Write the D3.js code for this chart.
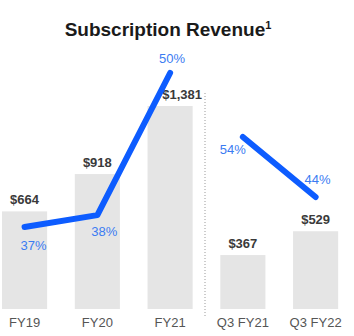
<!DOCTYPE html>
<html>
<head>
<meta charset="utf-8">
<script src="https://cdn.jsdelivr.net/npm/d3@7/dist/d3.min.js"></script>
<style>
  html, body { margin: 0; padding: 0; background: #fff; }
  svg { display: block; font-family: "Liberation Sans", Arial, sans-serif; }
</style>
</head>
<body>
<svg id="chart" width="354" height="336"></svg>
<script>
// Subscription revenue ($M) with growth rate
const categories = ["FY19", "FY20", "FY21", "Q3 FY21", "Q3 FY22"];
const revenue = [664, 918, 1381, 367, 529];
const valueLabels = ["$664", "$918", "$1,381", "$367", "$529"];
const growth = [37, 38, 50, 54, 44];
const growthLabels = ["37%", "38%", "50%", "54%", "44%"];
const annualIdx = [0, 1, 2];
const quarterIdx = [3, 4];

const svg = d3.select("#chart");

const x = d3.scaleBand()
  .domain(categories)
  .range([-11.8, 352])
  .paddingInner(0.38)
  .paddingOuter(0.19);

const y = d3.scaleLinear().domain([0, 1381]).range([309, 106]);

// growth lines use their own scale per panel
const gA = d3.scaleLinear().domain([37, 50]).range([227, 73]);
const gQ = d3.scaleLinear().domain([44, 54]).range([197, 137]);

// title
svg.append("text")
  .attr("x", 168).attr("y", 36)
  .attr("text-anchor", "middle")
  .attr("font-size", 19).attr("font-weight", "bold")
  .attr("fill", "#1a1a1a")
  .text("Subscription Revenue")
  .append("tspan")
  .attr("font-size", 11).attr("dy", -7)
  .text("1");

// bars
svg.selectAll("rect.bar")
  .data(categories)
  .join("rect")
  .attr("class", "bar")
  .attr("x", d => x(d))
  .attr("width", x.bandwidth())
  .attr("y", (d, i) => y(revenue[i]))
  .attr("height", (d, i) => y(0) - y(revenue[i]))
  .attr("fill", "#e5e5e5");

// value labels (FY21 label nudged right of the rising line)
const valDx = [0, 0, 12, 0, 0];
svg.selectAll("text.val")
  .data(categories)
  .join("text")
  .attr("class", "val")
  .attr("x", (d, i) => x(d) + x.bandwidth() / 2 + valDx[i])
  .attr("y", (d, i) => y(revenue[i]) - 7)
  .attr("text-anchor", "middle")
  .attr("font-size", 13).attr("font-weight", "bold")
  .attr("fill", "#3a3a3a")
  .text((d, i) => valueLabels[i]);

// separator between annual and quarterly
svg.append("line")
  .attr("x1", 205).attr("x2", 205)
  .attr("y1", 93).attr("y2", 318)
  .attr("stroke", "#9a9a9a").attr("stroke-width", 1)
  .attr("stroke-dasharray", "1,2");

// growth lines
const cx = i => x(categories[i]) + x.bandwidth() / 2;
const lineA = d3.line().x(i => cx(i)).y(i => gA(growth[i]));
const lineQ = d3.line().x(i => cx(i)).y(i => gQ(growth[i]));

svg.append("path").attr("d", lineA(annualIdx))
  .attr("fill", "none").attr("stroke", "#0d5cff")
  .attr("stroke-width", 6).attr("stroke-linecap", "round").attr("stroke-linejoin", "round");
svg.append("path").attr("d", lineQ(quarterIdx))
  .attr("fill", "none").attr("stroke", "#0d5cff")
  .attr("stroke-width", 6).attr("stroke-linecap", "round").attr("stroke-linejoin", "round");

// growth labels (offsets relative to each point)
const gOffsets = [[9, 23], [7, 21], [2, -10], [-10, 17], [2, -13]];
svg.selectAll("text.pct")
  .data(categories)
  .join("text")
  .attr("class", "pct")
  .attr("x", (d, i) => cx(i) + gOffsets[i][0])
  .attr("y", (d, i) => (i < 3 ? gA(growth[i]) : gQ(growth[i])) + gOffsets[i][1])
  .attr("text-anchor", "middle")
  .attr("font-size", 13)
  .attr("fill", "#3b7cf2")
  .text((d, i) => growthLabels[i]);

// category axis
const axis = svg.append("g")
  .attr("transform", `translate(0,${y(0)})`)
  .call(d3.axisBottom(x).tickSize(0).tickPadding(9));
axis.select(".domain").remove();
axis.selectAll("text")
  .attr("font-size", 13)
  .attr("font-family", "Liberation Sans, Arial, sans-serif")
  .attr("fill", "#555");
</script>
</body>
</html>
